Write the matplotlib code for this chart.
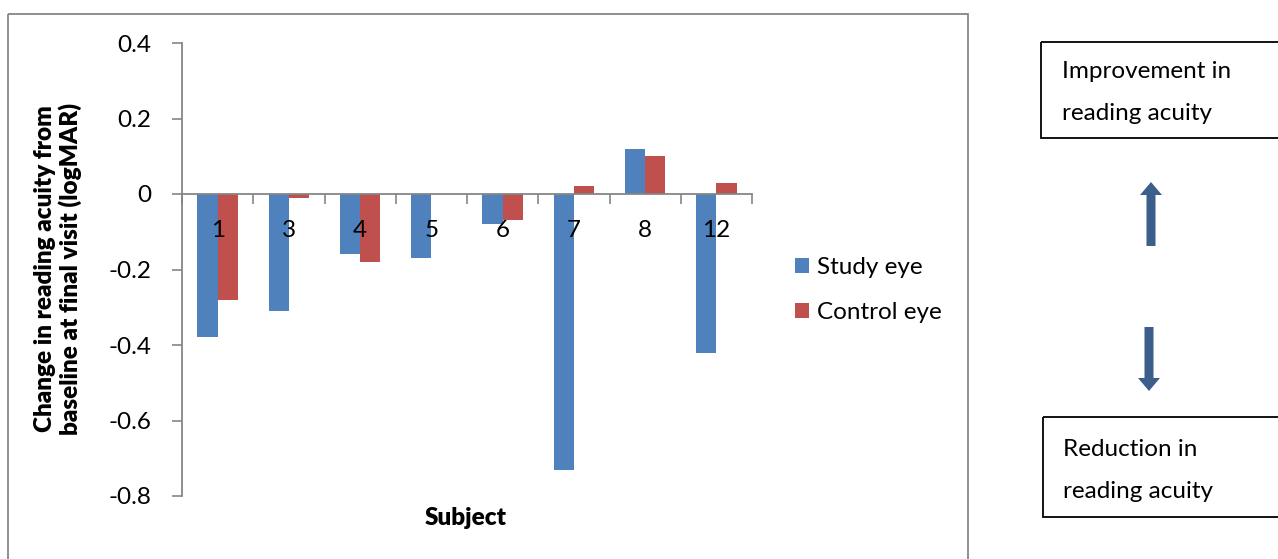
import matplotlib
matplotlib.use("Agg")
import matplotlib.pyplot as plt
from matplotlib.patches import Rectangle, FancyArrow
import numpy as np

# Change in reading acuity (logMAR) per subject
subjects = ["1", "3", "4", "5", "6", "7", "8", "12"]
study_eye = [-0.38, -0.31, -0.16, -0.17, -0.08, -0.73, 0.12, -0.42]
control_eye = [-0.28, -0.01, -0.18, 0.0, -0.07, 0.02, 0.10, 0.03]
y_ticks = [-0.8, -0.6, -0.4, -0.2, 0.0, 0.2, 0.4]
y_tick_labels = ["-0.8", "-0.6", "-0.4", "-0.2", "0", "0.2", "0.4"]

plt.rcParams["font.family"] = ["Lato", "DejaVu Sans"]

W, H = 1278, 559
fig = plt.figure(figsize=(W / 100, H / 100), dpi=100)
fig.patch.set_facecolor("white")

GRAY = "#868686"
BLUE = "#4F81BD"
RED = "#C0504D"
ARROW = "#3B5E8C"
FS = 17.5


def frac(l, t, r, b):
    return [l / W, 1 - b / H, (r - l) / W, (b - t) / H]


# overlay in pixel units for frame, captions and annotation boxes
bg = fig.add_axes([0, 0, 1, 1], zorder=0)
bg.set_xlim(0, W)
bg.set_ylim(H, 0)
bg.axis("off")

ax = fig.add_axes(frac(182, 43, 752, 496), zorder=1)
ax.patch.set_alpha(0)

n = len(subjects)
x = np.arange(n)
w = 1 / 3.5
ax.bar(x - w / 2, study_eye, w, color=BLUE, label="Study eye", zorder=1)
ax.bar(x + w / 2, control_eye, w, color=RED, label="Control eye", zorder=1)

ax.set_xlim(-0.5, n - 0.5)
ax.set_ylim(-0.8, 0.4)

for s in ("top", "right"):
    ax.spines[s].set_visible(False)
ax.spines["left"].set_color(GRAY)
ax.spines["bottom"].set_color(GRAY)
ax.spines["left"].set_linewidth(1.3)
ax.spines["bottom"].set_linewidth(1.3)
ax.spines["bottom"].set_position(("data", 0))

ax.set_yticks(y_ticks)
ax.set_yticklabels(y_tick_labels)
ax.tick_params(axis="y", direction="out", length=7, width=1.2, color=GRAY,
               pad=15, labelsize=FS)

ax.set_xticks(x)
ax.set_xticklabels(subjects)
ax.tick_params(axis="x", which="major", length=0, pad=19, labelsize=FS)
ax.set_xticks(np.arange(n + 1) - 0.5, minor=True)
ax.tick_params(axis="x", which="minor", direction="out", length=7,
               width=1.2, color=GRAY)

bg.text(58, 269, "Change in reading acuity from\nbaseline at final visit (logMAR)",
        rotation=90, ha="center", va="center", multialignment="center",
        fontsize=17.5, fontweight="heavy", linespacing=1.15)
bg.text(466, 518, "Subject", ha="center", va="center", fontsize=17.5,
        fontweight="heavy")

fig.legend(loc="center left", bbox_to_anchor=(773 / W, 1 - 290 / H),
           frameon=False, fontsize=FS, handlelength=0.6, handleheight=0.6,
           handletextpad=0.3, labelspacing=1.0)

# chart frame
bg.add_patch(Rectangle((8, 14), 960, 560, fill=False, edgecolor=GRAY, lw=1.3))

# annotation boxes
bg.add_patch(Rectangle((1041, 42), 300, 96, fill=False, edgecolor="black", lw=1.3))
bg.text(1062, 72, "Improvement in", ha="left", va="center", fontsize=FS)
bg.text(1062, 113, "reading acuity", ha="left", va="center", fontsize=FS)
bg.add_patch(Rectangle((1043, 417), 300, 100, fill=False, edgecolor="black", lw=1.3))
bg.text(1063, 450, "Reduction in", ha="left", va="center", fontsize=FS)
bg.text(1063, 492, "reading acuity", ha="left", va="center", fontsize=FS)

# direction arrows
bg.add_patch(FancyArrow(1151, 246, 0, -64, width=9, head_width=22,
                        head_length=13, length_includes_head=True,
                        color=ARROW, lw=0))
bg.add_patch(FancyArrow(1149, 327, 0, 64, width=9, head_width=22,
                        head_length=13, length_includes_head=True,
                        color=ARROW, lw=0))

fig.savefig("out.png", dpi=100, facecolor="white")
